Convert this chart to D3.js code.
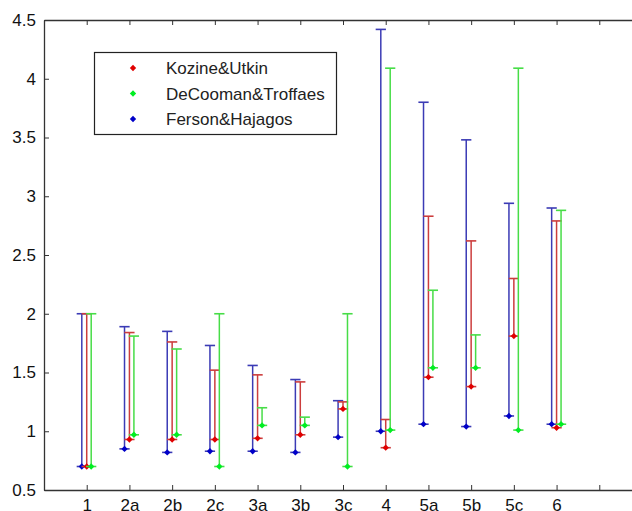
<!DOCTYPE html>
<meta charset="utf-8">
<style>
body { margin: 0; background: #fff; }
svg { display: block; font-family: "Liberation Sans", Arial, sans-serif; }
.tick text { font-size: 17px; fill: #111; }
.axis path, .axis line { stroke: #333; }
</style>
<svg width="632" height="511"></svg>
<script src="https://d3js.org/d3.v7.min.js"></script>
<script>
// categories along x (tick 13 is left without a label)
var categories = ["1", "2a", "2b", "2c", "3a", "3b", "3c", "4", "5a", "5b", "5c", "6"];
var yTicks = [0.5, 1, 1.5, 2, 2.5, 3, 3.5, 4, 4.5];

// interval bounds per category
var kozineLow  = [0.70, 0.93, 0.93, 0.93, 0.94, 0.97, 1.19, 0.86, 1.46, 1.38, 1.81, 1.03];
var kozineHigh = [2.00, 1.84, 1.76, 1.52, 1.48, 1.42, 1.25, 1.10, 2.83, 2.62, 2.30, 2.79];
var decoomanLow  = [0.70, 0.97, 0.97, 0.70, 1.05, 1.05, 0.70, 1.01, 1.54, 1.54, 1.01, 1.06];
var decoomanHigh = [2.00, 1.81, 1.70, 2.00, 1.20, 1.12, 2.00, 4.09, 2.20, 1.82, 4.09, 2.88];
var fersonLow  = [0.70, 0.85, 0.82, 0.83, 0.83, 0.82, 0.95, 1.00, 1.06, 1.04, 1.13, 1.06];
var fersonHigh = [2.00, 1.89, 1.85, 1.73, 1.56, 1.44, 1.26, 4.42, 3.80, 3.48, 2.94, 2.90];

var series = [
  {name: "Ferson&Hajagos", low: fersonLow, high: fersonHigh, shift: -0.115, line: "#3b3bb5", dot: "#0000c8"},
  {name: "Kozine&Utkin", low: kozineLow, high: kozineHigh, shift: 0, line: "#cc3d3d", dot: "#e00000"},
  {name: "DeCooman&Troffaes", low: decoomanLow, high: decoomanHigh, shift: 0.105, line: "#47dd47", dot: "#00ee22"}
];
var legendOrder = [1, 2, 0];

var svg = d3.select("svg");
var plotLeft = 44, plotRight = 642, plotTop = 20, plotBottom = 490;

var x = d3.scaleLinear().domain([0, 14]).range([plotLeft, plotRight]);
var y = d3.scaleLinear().domain([0.5, 4.5]).range([plotBottom, plotTop]);
var xTicks = d3.range(1, 14);

// axes box with inward ticks, MATLAB style
svg.append("g").attr("class", "axis")
    .attr("transform", "translate(0," + plotBottom + ")")
    .call(d3.axisBottom(x).tickValues(xTicks).tickSizeInner(-5).tickSizeOuter(0)
      .tickPadding(9)
      .tickFormat(function(d) { return categories[d - 1] || ""; }));

svg.append("g").attr("class", "axis")
    .attr("transform", "translate(0," + plotTop + ")")
    .call(d3.axisTop(x).tickValues(xTicks).tickSizeInner(-5).tickSizeOuter(0).tickFormat(""));

svg.append("g").attr("class", "axis")
    .attr("transform", "translate(" + plotLeft + ",0)")
    .call(d3.axisLeft(y).tickValues(yTicks).tickSizeInner(-5).tickSizeOuter(0)
      .tickPadding(8).tickFormat(d3.format("")));

svg.selectAll(".axis .domain").attr("stroke-width", 1.3);

// square-ish diamond like MATLAB's 'd' marker
var diamondType = {
  draw: function(ctx, size) {
    var r = Math.sqrt(size / 2);
    ctx.moveTo(0, -r); ctx.lineTo(r, 0); ctx.lineTo(0, r); ctx.lineTo(-r, 0); ctx.closePath();
  }
};
var diamond = d3.symbol().type(diamondType).size(20);
var cap = 0.12;

series.forEach(function(s) {
  var g = svg.append("g");
  var rows = categories.map(function(c, i) {
    return {pos: i + 1 + s.shift, lo: s.low[i], hi: s.high[i]};
  });

  g.selectAll("line.bar").data(rows).enter().append("line")
      .attr("x1", function(d) { return x(d.pos); })
      .attr("x2", function(d) { return x(d.pos); })
      .attr("y1", function(d) { return y(d.lo); })
      .attr("y2", function(d) { return y(d.hi); })
      .attr("stroke", s.line).attr("stroke-width", 1.5);

  ["lo", "hi"].forEach(function(k) {
    g.selectAll("line.cap-" + k).data(rows).enter().append("line")
        .attr("x1", function(d) { return x(d.pos - cap); })
        .attr("x2", function(d) { return x(d.pos + cap); })
        .attr("y1", function(d) { return y(d[k]); })
        .attr("y2", function(d) { return y(d[k]); })
        .attr("stroke", s.line).attr("stroke-width", 1.6);
  });

  g.selectAll("path").data(rows).enter().append("path")
      .attr("d", diamond)
      .attr("transform", function(d) { return "translate(" + x(d.pos) + "," + y(d.lo) + ")"; })
      .attr("fill", s.dot);
});

// legend
var lg = svg.append("g");
lg.append("rect")
    .attr("x", 94.5).attr("y", 52.5).attr("width", 242).attr("height", 82)
    .attr("fill", "#fff").attr("stroke", "#222").attr("stroke-width", 1.2);

legendOrder.forEach(function(si, r) {
  var s = series[si], cy = 68 + r * 25.5;
  lg.append("path").attr("d", diamond)
      .attr("transform", "translate(133," + cy + ")")
      .attr("fill", s.dot);
  lg.append("text").attr("x", 166).attr("y", cy + 6)
      .attr("font-size", 17).attr("fill", "#222")
      .text(s.name);
});
</script>
